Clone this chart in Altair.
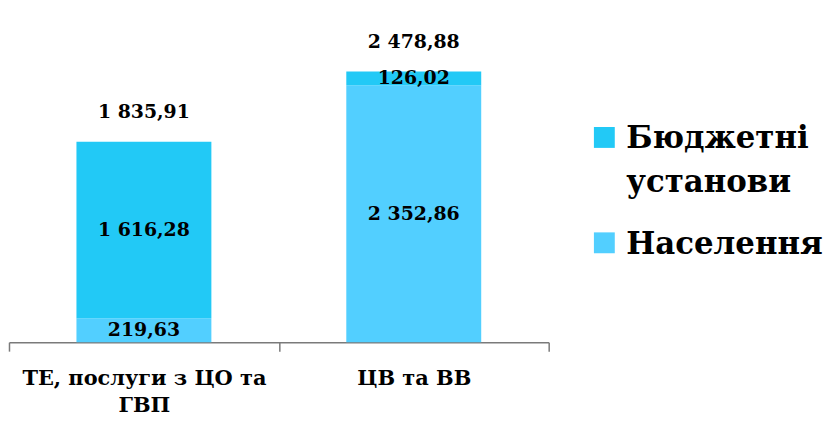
import altair as alt
import pandas as pd

categories = ["ТЕ, послуги з ЦО та ГВП", "ЦВ та ВВ"]
series = ["Бюджетні установи", "Населення"]
budget = [1616.28, 126.02]
population = [219.63, 2352.86]
colors = ["#22C9F6", "#52CFFF"]


def fmt(v):
    s = f"{v:,.2f}"
    return s.replace(",", " ").replace(".", ",")


rows = []
tot_rows = []
for i, c in enumerate(categories):
    p, b = population[i], budget[i]
    rows.append(dict(cat=c, series=series[1], y0=0, y1=p, mid=p / 2, label=fmt(p)))
    rows.append(dict(cat=c, series=series[0], y0=p, y1=p + b, mid=p + b / 2, label=fmt(b)))
    tot_rows.append(dict(cat=c, total=p + b, label=fmt(p + b)))
df = pd.DataFrame(rows)
tot = pd.DataFrame(tot_rows)
leg_df = pd.DataFrame({"series": series, "text": [series[0].replace(" ", "\n"), series[1]]})

FONT = "DejaVu Serif"
color_scale = alt.Scale(domain=series, range=colors)

x = alt.X(
    "cat:N",
    sort=categories,
    scale=alt.Scale(paddingInner=0, paddingOuter=0),
    axis=alt.Axis(
        title=None,
        labelAngle=0,
        domainColor="#7a7a7a",
        domainWidth=1.5,
        tickColor="#7a7a7a",
        tickWidth=1.5,
        tickSize=9,
        tickBand="extent",
        labelFont=FONT,
        labelFontWeight="bold",
        labelFontSize=21,
        labelColor="black",
        labelLineHeight=27,
        labelPadding=17,
        labelLimit=0,
        labelExpr="datum.value == 'ТЕ, послуги з ЦО та ГВП' ? ['ТЕ, послуги з ЦО та', 'ГВП'] : datum.value",
    ),
)
yscale = alt.Scale(domain=[0, 3050], nice=False)

bars = alt.Chart(df).mark_bar(width=alt.RelativeBandSize(0.5)).encode(
    x=x,
    y=alt.Y("y0:Q", scale=yscale, axis=None),
    y2="y1:Q",
    color=alt.Color("series:N", scale=color_scale, legend=None),
)

seg_text = alt.Chart(df).mark_text(
    font=FONT, fontSize=19, fontWeight="bold", color="black", baseline="middle"
).encode(x=alt.X("cat:N", sort=categories), y=alt.Y("mid:Q", scale=yscale), text="label:N")

tot_text = alt.Chart(tot).mark_text(
    font=FONT, fontSize=19, fontWeight="bold", color="black", baseline="middle", dy=-30
).encode(x=alt.X("cat:N", sort=categories), y=alt.Y("total:Q", scale=yscale), text="label:N")

main = alt.layer(bars, seg_text, tot_text).properties(width=543, height=335)

leg_base = alt.Chart(leg_df).encode(
    y=alt.Y("series:N", sort=series, axis=None,
            scale=alt.Scale(type="point", range=[129, 235], padding=0))
)
leg_sq = leg_base.mark_square(size=441, opacity=1).encode(
    x=alt.value(55), color=alt.Color("series:N", scale=color_scale, legend=None)
)
leg_txt = leg_base.mark_text(
    align="left", baseline="alphabetic", dy=11, lineBreak="\n", lineHeight=44,
    font=FONT, fontSize=31, fontWeight="bold", color="black",
).encode(x=alt.value(77), text="text:N")
legend_chart = alt.layer(leg_sq, leg_txt).properties(width=272, height=365)

chart = (
    alt.hconcat(main, legend_chart, spacing=0)
    .properties(padding={"left": 0, "top": 0, "right": 0, "bottom": 0}, background="white")
    .configure_view(stroke=None)
)

chart.save("out.html", embed_options={"renderer": "svg", "actions": False})
